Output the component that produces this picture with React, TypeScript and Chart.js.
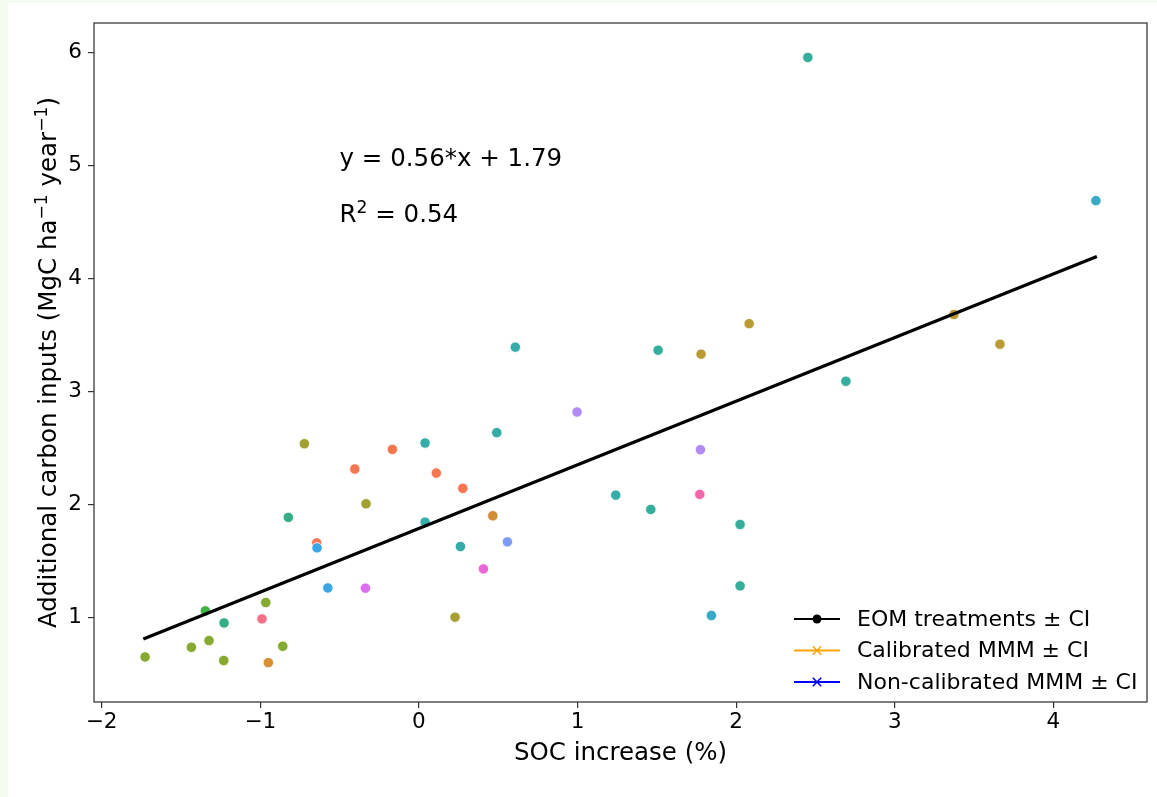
import React, { useEffect, useRef } from 'react';
import { Chart, registerables } from 'chart.js';

Chart.register(...registerables);

// ---------- data ----------
const socIncrease = [
  2.452, 4.268, 3.373, 3.663, 2.082, 1.779, 2.692, 1.508, 0.608, 0.997,
  1.775, 1.771, 1.241, 1.462, 2.025, 2.025, 1.844, 0.491, 0.039, 0.039,
  0.262, 0.558, 0.407, 0.466, 0.277, 0.110, -0.167, -0.404, -0.722, -0.333,
  -0.337, -0.574, -0.644, -0.642, -0.823, 0.228, -0.965, -0.989, -0.949, -0.858,
  -1.228, -1.346, -1.323, -1.434, -1.230, -1.726,
];
const carbonInputs = [
  5.959, 4.691, 3.683, 3.420, 3.602, 3.332, 3.092, 3.367, 3.394, 2.820,
  2.486, 2.090, 2.084, 1.957, 1.824, 1.280, 1.018, 2.637, 2.545, 1.845,
  1.629, 1.670, 1.431, 1.901, 2.144, 2.279, 2.489, 2.315, 2.539, 2.007,
  1.260, 1.262, 1.661, 1.617, 1.887, 1.003, 1.133, 0.988, 0.601, 0.746,
  0.952, 1.059, 0.796, 0.737, 0.619, 0.651,
];
const pointColors = [
  '#35ae9b', '#39a9c6', '#b89c33', '#b89c33', '#b89c33', '#b89c33', '#35ae9b', '#35ae9b', '#36aca8', '#b38bf4',
  '#b38bf4', '#f368a8', '#36aca8', '#35ae9b', '#35ae9b', '#35ae9b', '#38a9c6', '#36aca8', '#36aca8', '#36aca8',
  '#36aca8', '#7f9bf4', '#ec66d6', '#d08e37', '#f7754f', '#f7754f', '#f7754f', '#f7754f', '#a2a031', '#a2a031',
  '#dc6fef', '#3ca6e2', '#f7754f', '#3ca6e2', '#35ae86', '#a8a034', '#86a931', '#f56f86', '#d79137', '#86a931',
  '#35ae86', '#3fb244', '#86a931', '#86a931', '#86a931', '#86a931',
];
const fitX = [-1.737, 4.274];
const fitY = [0.81, 4.197];
const xTicks = [-2, -1, 0, 1, 2, 3, 4];
const yTicks = [1, 2, 3, 4, 5, 6];
const xRange = [-2.048, 4.59];
const yRange = [0.252, 6.264];
const xTitle = 'SOC increase (%)';
const yTitleParts = [
  { text: 'Additional carbon inputs (MgC ha', sup: false },
  { text: '\u22121', sup: true },
  { text: ' year', sup: false },
  { text: '\u22121', sup: true },
  { text: ')', sup: false },
];
const equationText = 'y = 0.56*x + 1.79';
const equationPos = [-0.5, 5.0];
const r2Text = ' = 0.54';
const r2Pos = [-0.5, 4.5];
const legendLabels = ['EOM treatments \u00b1 CI', 'Calibrated MMM \u00b1 CI', 'Non-calibrated MMM \u00b1 CI'];
const legendColors = ['#000000', '#ffa500', '#0000ff'];
const legendMarkers = ['circle', 'cross', 'cross'];

const FONT = "'DejaVu Sans', 'Liberation Sans', sans-serif";
const TITLE_SIZE = 24.5;

function fmtTick(v: number) {
  return v < 0 ? '\u2212' + Math.abs(v) : String(v);
}

type Part = { text: string; sup: boolean };

function drawRich(ctx: CanvasRenderingContext2D, parts: Part[], x: number, y: number, size: number, align: 'left' | 'center') {
  const supSize = size * 0.7;
  const widths = parts.map((p) => {
    ctx.font = `${p.sup ? supSize : size}px ${FONT}`;
    return ctx.measureText(p.text).width;
  });
  const total = widths.reduce((a, b) => a + b, 0);
  let cx = align === 'center' ? x - total / 2 : x;
  ctx.textAlign = 'left';
  ctx.textBaseline = 'alphabetic';
  parts.forEach((p, i) => {
    ctx.font = `${p.sup ? supSize : size}px ${FONT}`;
    ctx.fillText(p.text, cx, p.sup ? y - size * 0.37 : y);
    cx += widths[i];
  });
}

const decorPlugin = {
  id: 'decor',
  afterDraw(chart: any) {
    const ctx: CanvasRenderingContext2D = chart.ctx;
    const { left, top, right, bottom } = chart.chartArea;
    const xs = chart.scales.x;
    const ys = chart.scales.y;
    ctx.save();
    // frame
    ctx.strokeStyle = '#3a3a3a';
    ctx.lineWidth = 1.3;
    ctx.strokeRect(left, top, right - left, bottom - top);

    ctx.fillStyle = '#000';
    // x title
    ctx.font = `${TITLE_SIZE}px ${FONT}`;
    ctx.textAlign = 'center';
    ctx.textBaseline = 'alphabetic';
    ctx.fillText(xTitle, (left + right) / 2, 757);

    // y title
    ctx.save();
    ctx.translate(48, (top + bottom) / 2);
    ctx.rotate(-Math.PI / 2);
    drawRich(ctx, yTitleParts, 0, 0, TITLE_SIZE, 'center');
    ctx.restore();

    // equation and R2
    const ex = xs.getPixelForValue(equationPos[0]);
    const ey = ys.getPixelForValue(equationPos[1]);
    ctx.font = `${TITLE_SIZE}px ${FONT}`;
    ctx.textAlign = 'left';
    ctx.textBaseline = 'alphabetic';
    ctx.fillText(equationText, ex, ey);
    const rx = xs.getPixelForValue(r2Pos[0]);
    const ry = ys.getPixelForValue(r2Pos[1]);
    drawRich(ctx, [{ text: 'R', sup: false }, { text: '2', sup: true }, { text: r2Text, sup: false }], rx, ry, TITLE_SIZE, 'left');

    // legend
    legendLabels.forEach((label, i) => {
      const yRow = bottom - 83 + i * 31.5;
      const x1 = right - 353;
      const x2 = right - 307;
      const mx = (x1 + x2) / 2;
      ctx.strokeStyle = legendColors[i];
      ctx.fillStyle = legendColors[i];
      ctx.lineWidth = 2.2;
      ctx.beginPath();
      ctx.moveTo(x1, yRow);
      ctx.lineTo(x2, yRow);
      ctx.stroke();
      if (legendMarkers[i] === 'circle') {
        ctx.beginPath();
        ctx.arc(mx, yRow, 4.5, 0, Math.PI * 2);
        ctx.fill();
      } else {
        ctx.lineWidth = 1.6;
        const s = 4.2;
        ctx.beginPath();
        ctx.moveTo(mx - s, yRow - s);
        ctx.lineTo(mx + s, yRow + s);
        ctx.moveTo(mx - s, yRow + s);
        ctx.lineTo(mx + s, yRow - s);
        ctx.stroke();
      }
      ctx.fillStyle = '#000';
      ctx.font = `22px ${FONT}`;
      ctx.textAlign = 'left';
      ctx.textBaseline = 'middle';
      ctx.fillText(label, right - 290, yRow + 1);
    });
    ctx.restore();
  },
};

export default function App() {
  const ref = useRef<HTMLCanvasElement>(null);

  useEffect(() => {
    document.body.style.margin = '0';
    document.body.style.background = '#f4fcef';
    const canvas = ref.current;
    if (!canvas) return;

    const points = socIncrease.map((x, i) => ({ x, y: carbonInputs[i] }));
    const fitLine = fitX.map((x, i) => ({ x, y: fitY[i] }));

    const axisCommon = (ticks: number[], fitKey: 'height' | 'width', fitVal: number) => ({
      type: 'linear' as const,
      afterBuildTicks: (s: any) => {
        s.ticks = ticks.map((v) => ({ value: v }));
      },
      afterFit: (s: any) => {
        s[fitKey] = fitVal;
      },
      grid: {
        drawOnChartArea: false,
        drawTicks: true,
        tickLength: 6,
        color: '#333',
        lineWidth: 1.2,
      },
      border: { display: false },
      ticks: {
        font: { family: FONT, size: 21.5 },
        color: '#000',
        callback: (v: any) => fmtTick(Number(v)),
        maxRotation: 0,
        autoSkip: false,
      },
    });

    const xAxis: any = axisCommon(xTicks, 'height', 95);
    xAxis.position = 'bottom';
    xAxis.min = xRange[0];
    xAxis.max = xRange[1];
    xAxis.ticks.padding = 2;
    const yAxis: any = axisCommon(yTicks, 'width', 86);
    yAxis.position = 'left';
    yAxis.min = yRange[0];
    yAxis.max = yRange[1];
    yAxis.ticks.padding = 6;

    const chart = new Chart(canvas, {
      type: 'scatter',
      data: {
        datasets: [
          {
            type: 'line',
            label: 'fit',
            data: fitLine,
            borderColor: '#000',
            borderWidth: 3.2,
            pointRadius: 0,
            showLine: true,
            fill: false,
            order: 0,
          } as any,
          {
            label: 'EOM',
            data: points,
            pointBackgroundColor: pointColors,
            pointBorderColor: '#ffffff',
            pointBorderWidth: 0.8,
            pointRadius: 5.2,
            order: 1,
          },
        ],
      },
      options: {
        responsive: false,
        animation: false,
        devicePixelRatio: 1,
        layout: { padding: { top: 20, right: 10, left: 0, bottom: 0 } },
        plugins: { legend: { display: false }, tooltip: { enabled: false } },
        scales: { x: xAxis, y: yAxis },
      },
      plugins: [decorPlugin],
    });
    return () => chart.destroy();
  }, []);

  return (
    <div style={{ position: 'absolute', left: 8, top: 3, width: 1149, height: 794, background: '#ffffff' }}>
      <canvas
        ref={ref}
        width={1149}
        height={794}
        style={{ display: 'block', width: '1149px', height: '794px' }}
      />
    </div>
  );
}
